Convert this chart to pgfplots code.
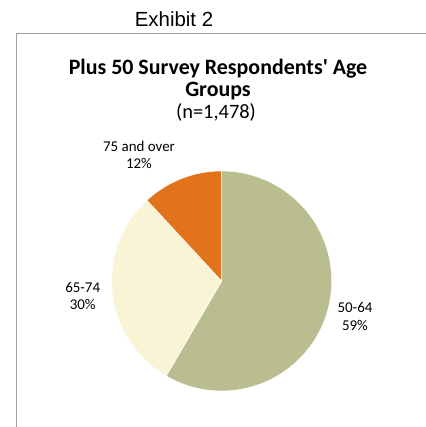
\documentclass[border=0pt]{standalone}
\usepackage{pgfplots}
\pgfplotsset{compat=1.18}
\usepackage{pgfplotstable}
\usepackage{fontspec}
\setmainfont{Carlito}
\newfontfamily\exfont{Liberation Sans}
\definecolor{cA}{HTML}{B9BD8F}
\definecolor{cB}{HTML}{F8F4D5}
\definecolor{cC}{HTML}{E0731C}
\pgfplotstableread{
label value
50-64 59
65-74 30
75+ 12
}\piedata
\pgfplotstablegetelem{0}{value}\of\piedata \let\vA\pgfplotsretval
\pgfplotstablegetelem{1}{value}\of\piedata \let\vB\pgfplotsretval
\pgfplotstablegetelem{2}{value}\of\piedata \let\vC\pgfplotsretval
\pgfmathsetmacro\tot{\vA+\vB+\vC}
\pgfmathsetmacro\aA{90}
\pgfmathsetmacro\aB{\aA-\vA/\tot*360}
\pgfmathsetmacro\aC{\aB-\vB/\tot*360}
\pgfmathsetmacro\aD{\aC-\vC/\tot*360}
\begin{document}
\begin{tikzpicture}[x=1bp,y=1bp]
\path[use as bounding box] (0,0) rectangle (426,427);
\draw[gray!75, line width=0.9bp] (16.7,0) -- (16.7,393.7) -- (430,393.7);
\node[anchor=base, font=\exfont\fontsize{20.5}{24}\selectfont] at (174,400.5) {Exhibit 2};
\node[anchor=base, font=\fontsize{22}{26}\selectfont\bfseries] at (218,353) {Plus 50 Survey Respondents\textquotesingle{} Age};
\node[anchor=base, font=\fontsize{22}{26}\selectfont\bfseries] at (218,330.5) {Groups};
\node[anchor=base, font=\fontsize{20.5}{25}\selectfont] at (216,308.5) {(n=1,478)};
\begin{axis}[at={(111.7bp,36bp)}, anchor=south west, scale only axis,
  width=220bp, height=220bp, xmin=-1, xmax=1, ymin=-1, ymax=1,
  hide axis, clip=false]
\addplot[fill=cA, draw=white, line width=0.5pt, domain=\aB:\aA, samples=90, variable=\t]
  ({cos(\t)},{sin(\t)}) -- (axis cs:0,0) -- cycle;
\addplot[fill=cB, draw=white, line width=0.5pt, domain=\aC:\aB, samples=60, variable=\t]
  ({cos(\t)},{sin(\t)}) -- (axis cs:0,0) -- cycle;
\addplot[fill=cC, draw=white, line width=0.5pt, domain=\aD:\aC, samples=30, variable=\t]
  ({cos(\t)},{sin(\t)}) -- (axis cs:0,0) -- cycle;
\end{axis}
\node[font=\fontsize{15}{17.5}\selectfont, align=center] at (139,272) {75 and over\\12\%};
\node[font=\fontsize{15}{17.5}\selectfont, align=center] at (82.7,131) {65-74\\30\%};
\node[font=\fontsize{15}{17.5}\selectfont, align=center] at (355,110.5) {50-64\\59\%};
\end{tikzpicture}
\end{document}
